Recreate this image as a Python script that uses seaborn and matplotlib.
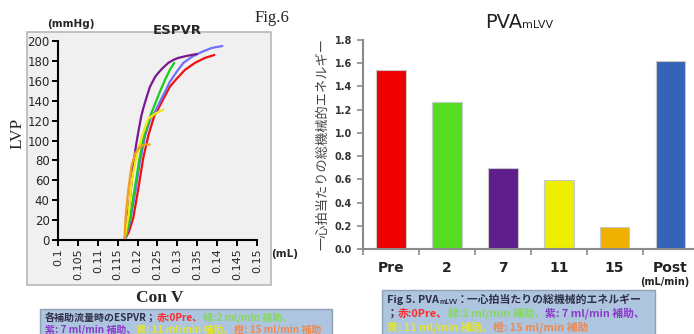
import matplotlib
matplotlib.use("Agg")
import matplotlib.pyplot as plt
import seaborn as sns
from matplotlib.patches import Rectangle

# ---- ESPVR curves (volume mL, LVP mmHg) ----
red_v = [0.1167, 0.1178, 0.1189, 0.1202, 0.1214, 0.1227, 0.1242, 0.1252, 0.1265, 0.1281, 0.1298,
         0.1319, 0.1344, 0.1369, 0.1393]
red_p = [0, 8, 22, 52, 82, 105, 125, 132, 142, 154, 162, 171, 178, 183, 186]
blue_v = [0.1167, 0.1174, 0.1181, 0.1194, 0.1206, 0.1219, 0.1234, 0.1244, 0.1256, 0.1269, 0.1281,
          0.1298, 0.1315, 0.1336, 0.1361, 0.1386, 0.1413]
blue_p = [0, 8, 18, 48, 79, 105, 124, 129, 139, 149, 159, 169, 178, 184, 189, 193, 195]
purple_v = [0.1167, 0.1172, 0.1181, 0.1189, 0.1196, 0.1202, 0.1209, 0.1214, 0.1223, 0.1231, 0.1244,
            0.1252, 0.1261, 0.1277, 0.1290, 0.1302, 0.1323, 0.1349]
purple_p = [0, 14, 42, 75, 95, 109, 124, 132, 144, 154, 164, 168, 172, 178, 181, 183, 185, 187]
green_v = [0.1167, 0.1180, 0.1192, 0.1204, 0.1216, 0.1234, 0.1244, 0.1256, 0.1269, 0.1281, 0.1292]
green_p = [0, 20, 50, 80, 105, 127, 137, 149, 161, 171, 178]
yellow_v = [0.1167, 0.1172, 0.1177, 0.1185, 0.1195, 0.1202, 0.1214, 0.1227, 0.1244, 0.1265]
yellow_p = [0, 12, 25, 59, 80, 92, 108, 122, 127, 131]
orange_v = [0.1167, 0.1170, 0.1177, 0.1185, 0.1194, 0.1206, 0.1219, 0.1231]
orange_p = [0, 25, 52, 75, 87, 94, 96, 96]

curves = [
    (red_v, red_p, "#ee1111"),
    (blue_v, blue_p, "#7070f8"),
    (purple_v, purple_p, "#7a1890"),
    (green_v, green_p, "#1ccc1c"),
    (yellow_v, yellow_p, "#f2ea10"),
    (orange_v, orange_p, "#f0a020"),
]
x_ticks = [0.1, 0.105, 0.11, 0.115, 0.12, 0.125, 0.13, 0.135, 0.14, 0.145, 0.15]
x_tick_labels = ["0.1", "0.105", "0.11", "0.115", "0.12", "0.125", "0.13", "0.135", "0.14", "0.145", "0.15"]
y_ticks = [0, 20, 40, 60, 80, 100, 120, 140, 160, 180, 200]

# ---- PVA bars ----
conditions = ["Pre", "2", "7", "11", "15", "Post"]
pva = [1.54, 1.27, 0.70, 0.59, 0.19, 1.62]
bar_colors = ["#ee0000", "#55dd22", "#5e1e8c", "#eeee00", "#f0b000", "#3463b8"]

cjk = ["Noto Sans CJK JP", "DejaVu Sans"]
serif = ["Liberation Serif", "DejaVu Serif"]

sns.set_style("white")
plt.rcParams["font.family"] = ["DejaVu Sans"]

fig = plt.figure(figsize=(6.94, 3.34), dpi=100)
over = fig.add_axes([0, 0, 1, 1], zorder=-5)
over.set_xlim(0, 1)
over.set_ylim(0, 1)
over.axis("off")

# ---------------- left: ESPVR ----------------
ax = fig.add_axes([0.0389, 0.1467, 0.3516, 0.7573])
ax.set_facecolor("#f0f0f0")
ax.add_patch(Rectangle((0, 0), 1, 1, transform=ax.transAxes, fill=False,
                       edgecolor="#b8b8b8", linewidth=1.2, clip_on=False, zorder=5))
for xs, ys, c in curves:
    sns.lineplot(x=xs, y=ys, color=c, sort=False, estimator=None, linewidth=1.6, ax=ax)
ax.set_xlim(0.09221, 0.15352)
ax.set_ylim(-45.2, 209)
ax.spines["top"].set_visible(False)
ax.spines["right"].set_visible(False)
ax.spines["left"].set_position(("data", 0.1))
ax.spines["left"].set_bounds(0, 200)
ax.spines["bottom"].set_position(("data", 0))
ax.spines["bottom"].set_bounds(0.1, 0.15)
for s in ("left", "bottom"):
    ax.spines[s].set_color("black")
    ax.spines[s].set_linewidth(1.5)
ax.set_xticks(x_ticks)
ax.set_xticklabels(x_tick_labels, rotation=90, fontsize=8)
ax.set_xticks([0.1 + 0.001 * i for i in range(51)], minor=True)
ax.set_yticks(y_ticks)
ax.set_yticklabels([str(v) for v in y_ticks], fontsize=8.5)
ax.tick_params(axis="both", which="major", direction="out", length=4, width=1.4, color="black", pad=2)
ax.tick_params(axis="x", which="minor", direction="out", length=2, width=0.8, color="black")
ax.tick_params(axis="x", bottom=True)
ax.tick_params(axis="y", left=True)
ax.set_xlabel("")
ax.set_ylabel("")

fig.text(71 / 694, 1 - 24 / 334, "(mmHg)", fontsize=7.5, fontweight="bold", ha="center", va="center")
fig.text(177 / 694, 1 - 31 / 334, "ESPVR", fontsize=9.5, fontweight="bold", ha="center", va="center")
fig.text(272 / 694, 1 - 18 / 334, "Fig.6", fontsize=12, family=serif, ha="center", va="center")
fig.text(17 / 694, 1 - 133 / 334, "LVP", fontsize=12.5, family=serif, rotation=90, ha="center", va="center")
fig.text(160 / 694, 1 - 298 / 334, "Con V", fontsize=12.5, family=serif, fontweight="bold", ha="center", va="center")
fig.text(285 / 694, 1 - 254 / 334, "(mL)", fontsize=7.5, fontweight="bold", ha="center", va="center")

# ---------------- right: PVA bars ----------------
bx = fig.add_axes([363 / 694, 1 - 249 / 334, 1 - 363 / 694, 209 / 334])
sns.barplot(x=conditions, y=pva, hue=conditions, palette=bar_colors, legend=False,
            width=0.53, edgecolor="#c8c8c8", linewidth=0.8, saturation=1, ax=bx)
bx.set_xlim(-0.5, 5.42)
bx.set_ylim(0, 1.8)
sns.despine(ax=bx)
for s in ("left", "bottom"):
    bx.spines[s].set_color("#8a8a8a")
    bx.spines[s].set_linewidth(1.5)
bx.set_yticks([0.2 * i for i in range(10)])
bx.set_yticklabels(["%.1f" % (0.2 * i) for i in range(10)], fontsize=7, fontweight="bold", color="#333333")
bx.tick_params(axis="y", direction="out", length=4, width=1.2, color="#8a8a8a", left=True, pad=4)
bx.tick_params(axis="x", which="major", length=0, pad=9)
bx.set_xticks([i - 0.5 for i in range(6)], minor=True)
bx.tick_params(axis="x", which="minor", direction="out", length=4, width=1.2, color="#8a8a8a", bottom=True)
for lab in bx.get_xticklabels():
    lab.set_fontsize(10)
    lab.set_fontweight("bold")
    lab.set_color("#222222")
bx.set_xlabel("")
bx.set_ylabel("一心拍当たりの総機械的エネルギー", family=cjk, fontsize=9.5, color="#444444", labelpad=4)

fig.text(665 / 694, 1 - 282 / 334, "(mL/min)", fontsize=7, fontweight="bold", ha="center", va="center", color="#222222")
t = fig.text(485 / 694, 1 - 22 / 334, "PVA", fontsize=14, ha="left", va="center", color="#222222")
over.annotate("mLVV", xy=(1, 0.08), xycoords=t, fontsize=8, ha="left", va="bottom", color="#222222")

# ---------------- caption boxes ----------------
dark = "#30304a"
red = "#ff2a2a"
green = "#86d860"
purple = "#8a3cc8"
yellow = "#e4e430"
orange = "#f08850"

fig.patches.append(Rectangle((40 / 694, -0.02), 292 / 694, (334 - 309) / 334 + 0.02,
                             transform=fig.transFigure, facecolor="#adc5de", edgecolor="#8fa0b4",
                             linewidth=1, figure=fig, zorder=-10))
fig.patches.append(Rectangle((382 / 694, -0.02), 273 / 694, (334 - 290) / 334 + 0.02,
                             transform=fig.transFigure, facecolor="#adc5de", edgecolor="#8fa0b4",
                             linewidth=1, figure=fig, zorder=-10))


def colored_line(x, y, parts, size=7.2):
    txt = fig.text(x, y, parts[0][0], color=parts[0][1], fontsize=size, family=cjk,
                   fontweight="bold", ha="left", va="center")
    for s, c in parts[1:]:
        fs = size * 0.6 if s == "mLVV" else size
        txt = over.annotate(s, xy=(1, 0), xycoords=txt, color=c, fontsize=fs, family=cjk,
                            fontweight="bold", ha="left", va="bottom")
    return txt


colored_line(45 / 694, 1 - 318 / 334, [("各補助流量時のESPVR；", dark), ("赤:0Pre、", red), ("緑:2 ml/min 補助、", green)])
colored_line(45 / 694, 1 - 330 / 334, [("紫: 7 ml/min 補助、", purple), ("黄: 11 ml/min 補助、", yellow),
                                       ("橙: 15 ml/min 補助", orange)])
colored_line(387 / 694, 1 - 300 / 334, [("Fig 5. PVA", dark), ("mLVV", dark), ("：一心拍当たりの総機械的エネルギー", dark)],
             size=7.8)
colored_line(387 / 694, 1 - 314 / 334, [("；", dark), ("赤:0Pre、", red), ("緑:2 ml/min 補助、", green),
                                        ("紫: 7 ml/min 補助、", purple)], size=7.8)
colored_line(387 / 694, 1 - 327 / 334, [("黄: 11 ml/min 補助、", yellow), ("橙: 15 ml/min 補助", orange)], size=7.8)

fig.savefig("out.png", dpi=100)
